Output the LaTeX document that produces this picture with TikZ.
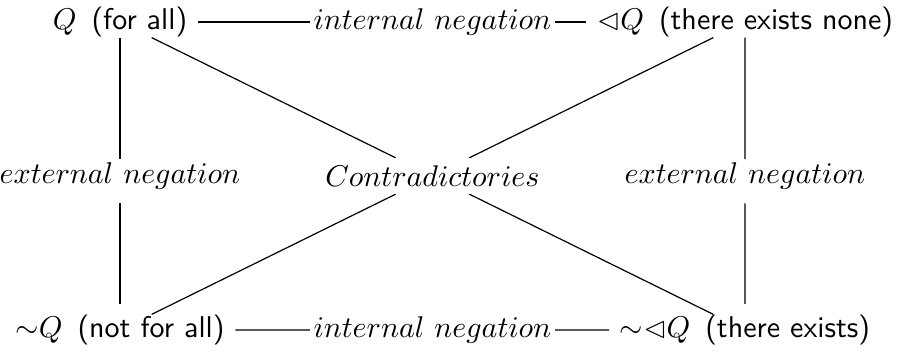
\documentclass[tikz,border=0pt]{standalone}
\usepackage{latexsym}
\usepackage{tikz}
\usetikzlibrary{positioning,calc}

\begin{document}
\begin{tikzpicture}[
    corner/.style={inner xsep=3.4pt, inner ysep=0pt},
    lbl/.style={fill=white, inner sep=1pt},
    contra/.style={inner sep=2.4pt},
    edge/.style={line width=0.4pt},
    vedge/.style={edge, shorten <=3.5pt, shorten >=3.5pt}
]
\useasboundingbox (-1.406,0.258) rectangle (9.138,-3.889);
\node[corner] (all) at (0,0) {$Q$\enspace\textsf{(for all)}};
\node[corner] (none) at (7.322,0) {${\lhd}Q$\enspace\textsf{(there exists none)}};
\node[corner] (notall) at (0,-3.608) {${\sim}Q$\enspace\textsf{(not for all)}};
\node[corner] (exists) at (7.322,-3.608) {${\sim}{\lhd}Q$\enspace\textsf{(there exists)}};
\node[contra] (contra) at ($(all)!0.5!(exists)$) {$Contradictories$};
\node[lbl] (intTop) at ($(all)!0.5!(none)$) {$internal\ negation$};
\node[lbl] (intBot) at ($(notall)!0.5!(exists)$) {$internal\ negation$};
\node[lbl] (extL) at ($(all)!0.5!(notall)$) {$external\ negation$};
\node[lbl] (extR) at ($(none)!0.5!(exists)$) {$external\ negation$};
% sides of the square
\draw[edge] (all) -- (intTop) -- (none);
\draw[edge] (notall) -- (intBot) -- (exists);
\draw[vedge] (all) -- (extL) -- (notall);
\draw[vedge] (none) -- (extR) -- (exists);
% diagonals
\draw[edge] (all) -- (contra) -- (exists);
\draw[edge] (none) -- (contra) -- (notall);
\end{tikzpicture}
\end{document}
